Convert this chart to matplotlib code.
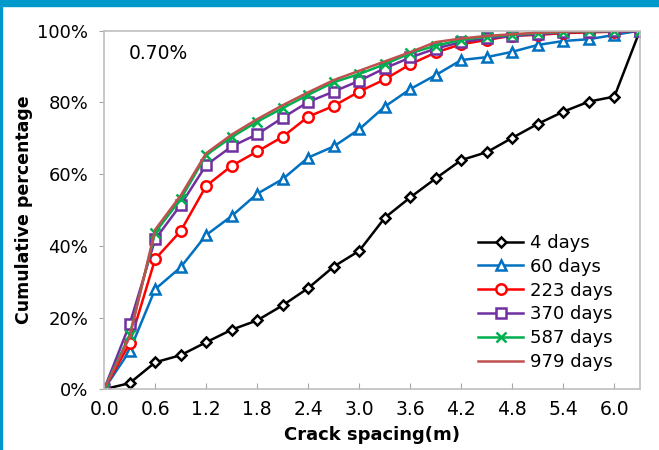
import numpy as np
import matplotlib.pyplot as plt
from matplotlib.patches import Rectangle

plt.rcParams['font.family'] = ['DejaVu Sans']

# crack spacing bins (m)
spacing = [0.0, 0.3, 0.6, 0.9, 1.2, 1.5, 1.8, 2.1, 2.4, 2.7, 3.0,
           3.3, 3.6, 3.9, 4.2, 4.5, 4.8, 5.1, 5.4, 5.7, 6.0, 6.3]

# cumulative percentage for each age
d4 = [0, 1.7, 7.5, 9.5, 13.1, 16.6, 19.2, 23.4, 28.2, 34.2, 38.6,
      47.8, 53.5, 58.8, 63.9, 66.1, 70.1, 74.0, 77.4, 80.2, 81.6, 100]
d60 = [0, 10.7, 27.9, 34.0, 43.0, 48.3, 54.5, 58.6, 64.6, 67.7, 72.5,
       78.8, 83.7, 87.6, 91.8, 92.6, 94.1, 96.0, 97.1, 97.6, 98.8, 100]
d223 = [0, 12.8, 36.3, 44.1, 56.7, 62.3, 66.3, 70.4, 76.0, 79.0, 83.0,
        86.4, 90.6, 93.9, 96.2, 97.4, 98.6, 98.8, 99.3, 99.5, 99.7, 100]
d370 = [0, 18.1, 41.8, 51.4, 62.5, 67.7, 71.1, 75.7, 80.1, 83.0, 86.0,
        89.5, 92.5, 95.0, 96.8, 97.8, 98.5, 99.0, 99.5, 99.7, 99.8, 100]
d587 = [0, 15.1, 43.7, 53.0, 65.3, 70.3, 74.6, 78.4, 82.1, 85.6, 87.9,
        90.6, 93.7, 95.8, 97.4, 98.3, 98.8, 99.3, 99.6, 99.8, 99.9, 100]
d979 = [0, 14.5, 44.5, 54.0, 65.8, 71.0, 75.3, 79.2, 82.8, 86.2, 88.8,
        91.4, 94.0, 96.8, 97.8, 98.5, 99.0, 99.4, 99.7, 99.8, 99.9, 100]

labels = ['4 days', '60 days', '223 days', '370 days', '587 days', '979 days']
series = [d4, d60, d223, d370, d587, d979]
colors = ['#000000', '#0070C0', '#FF0000', '#7030A0', '#00B050', '#C0504D']
markers = ['D', '^', 'o', 's', 'x', None]
msizes = [5.5, 7, 7.5, 7, 7, 0]

fig = plt.figure(figsize=(6.59, 4.5), dpi=100)
ax = fig.add_axes([0.158, 0.135, 0.813, 0.797])

for y, lab, c, m, ms in zip(series, labels, colors, markers, msizes):
    if m is None:
        ax.plot(spacing, y, color=c, lw=1.8, label=lab)
    elif m == 'x':
        ax.plot(spacing, y, color=c, lw=1.8, marker=m, ms=ms, mew=1.8, label=lab)
    else:
        ax.plot(spacing, y, color=c, lw=1.8, marker=m, ms=ms, mew=1.8,
                mfc='white', mec=c, label=lab)

ax.set_xlim(0, 6.3)
ax.set_ylim(0, 100)
ax.set_xticks(np.arange(0, 6.01, 0.6))
ax.set_xticklabels(['%.1f' % v for v in np.arange(0, 6.01, 0.6)])
ax.set_yticks(range(0, 101, 20))
ax.set_yticklabels(['%d%%' % v for v in range(0, 101, 20)])
ax.tick_params(axis='x', direction='in', length=4, color='#A6A6A6',
               labelsize=13.5, pad=8)
ax.tick_params(axis='y', direction='out', length=3.5, color='#A6A6A6',
               labelsize=13, pad=8)
for sp in ax.spines.values():
    sp.set_color('#BFBFBF')
    sp.set_linewidth(1.2)

ax.set_xlabel('Crack spacing(m)', fontsize=13, fontweight='bold', labelpad=5)
ax.set_ylabel('Cumulative percentage', fontsize=12.5, fontweight='bold', labelpad=3)
ax.text(0.046, 0.935, '0.70%', transform=ax.transAxes, fontsize=13.5,
        va='center', ha='left')

ax.legend(loc='upper left', bbox_to_anchor=(0.698, 0.433), frameon=False,
          fontsize=13, handlelength=2.5, handletextpad=0.39, labelspacing=0.32,
          borderaxespad=0, borderpad=0)

# blue frame around the figure
fig.patches.append(Rectangle((0, 1 - 6 / 450), 1, 6 / 450, transform=fig.transFigure,
                             color='#0099CC', zorder=10))
fig.patches.append(Rectangle((0, 0), 2 / 659, 1, transform=fig.transFigure,
                             color='#0099CC', zorder=10))

fig.savefig('out.png', dpi=100)
